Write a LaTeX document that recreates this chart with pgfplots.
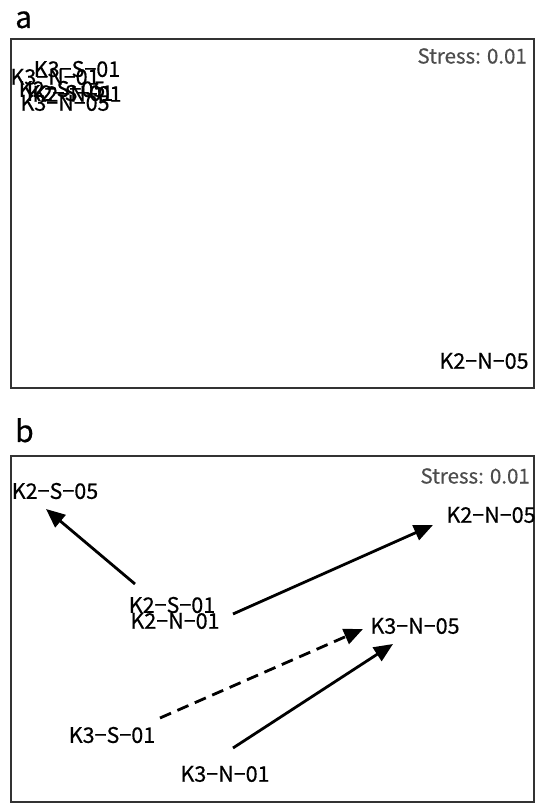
\documentclass[border=0pt]{standalone}
\usepackage{fontspec}
\setmainfont{Noto Sans CJK JP}[FakeBold=0.5]
\usepackage{pgfplots}
\pgfplotsset{compat=1.18}
\usetikzlibrary{arrows.meta}
\definecolor{boxc}{HTML}{333333}
\definecolor{stressc}{HTML}{4D4D4D}
\pgfplotsset{
  nmds/.style={
    scale only axis, width=523pt, height=349pt,
    xmin=0, xmax=523, ymin=0, ymax=349,
    xtick=\empty, ytick=\empty,
    axis line style={draw=boxc, line width=1.5pt},
    clip=false,
  },
  lbl/.style={only marks, mark=none, nodes near coords, point meta=explicit symbolic,
    nodes near coords align={center},
    every node near coord/.append style={anchor=center, inner sep=0pt, text=black,
      font=\fontsize{21.5}{21.5}\selectfont}},
  arr/.style={line width=2.8pt, black, -{Triangle[length=19pt,width=16pt]}},
}
\begin{document}
\begin{tikzpicture}
\useasboundingbox (0,0) rectangle (537pt,803pt);
% ---- panel a ----
\begin{axis}[nmds, name=A, at={(11pt,415pt)}, anchor=south west]
\addplot[lbl] coordinates {
 (66,319) [K3−S−01]
 (44,311) [K3−N−01]
 (51,299) [K2−S−05]
 (59,295) [K2−S−01]
 (66,294) [K2−N−01]
 (54,285) [K3−N−05]
 (473,27) [K2−N−05]
};
\node[anchor=east, text=stressc, font=\fontsize{20.5}{20.5}\selectfont, inner sep=0pt] at (axis cs:516,332) {Stress: 0.01};
\end{axis}
\node[anchor=base west, inner sep=0pt, font=\fontsize{30}{30}\selectfont] at (15pt,775pt) {a};
% ---- panel b ----
\begin{axis}[nmds, name=B, height=346pt, ymax=346, at={(11pt,1pt)}, anchor=south west]
\addplot[lbl] coordinates {
 (44,311) [K2−S−05]
 (480,287) [K2−N−05]
 (161,197) [K2−S−01]
 (164,181) [K2−N−01]
 (404,176) [K3−N−05]
 (101,67) [K3−S−01]
 (214,28) [K3−N−01]
};
\addplot[arr] coordinates {(124,218) (35,293)};
\addplot[arr] coordinates {(222,188) (422,277)};
\addplot[arr, dash pattern=on 12pt off 7pt] coordinates {(149,84) (352,173)};
\addplot[arr] coordinates {(222,54) (382,158)};
\node[anchor=east, text=stressc, font=\fontsize{20.5}{20.5}\selectfont, inner sep=0pt] at (axis cs:519,326) {Stress: 0.01};
\end{axis}
\node[anchor=base west, inner sep=0pt, font=\fontsize{30}{30}\selectfont] at (15pt,361pt) {b};
\end{tikzpicture}
\end{document}
